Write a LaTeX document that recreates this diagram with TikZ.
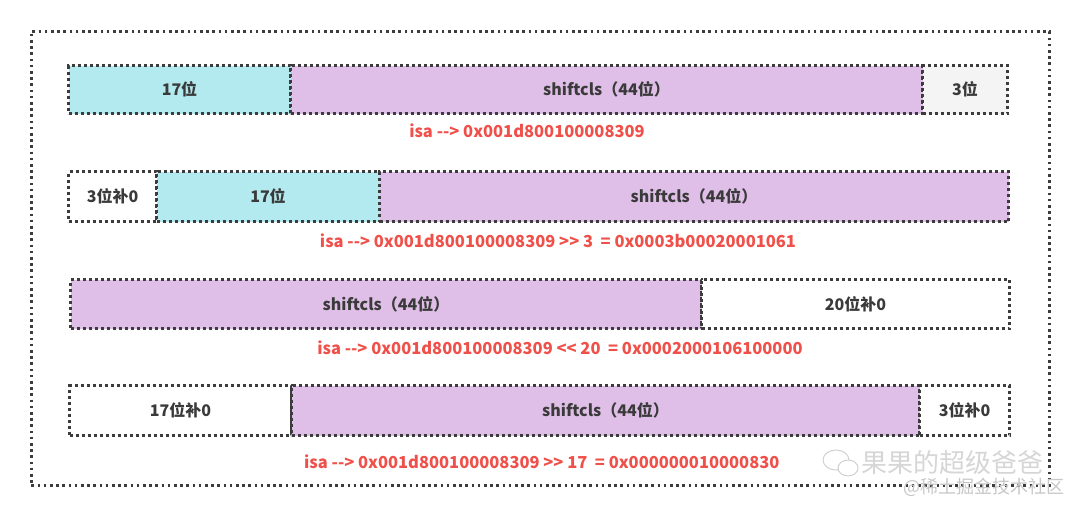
\documentclass[tikz,border=0pt]{standalone}
\usepackage{fontspec}
\setmainfont{Noto Sans CJK SC}[Ligatures=TeXOff]
\definecolor{cy}{HTML}{B2EAF0}
\definecolor{pu}{HTML}{DFBFE7}
\definecolor{gy}{HTML}{F4F4F4}
\definecolor{rd}{HTML}{F0504A}
\definecolor{tx}{HTML}{3A3A3A}
\definecolor{ln}{HTML}{3C3C3C}
\tikzset{
  cell/.style={draw=ln, line width=3pt, dash pattern=on 3pt off 3pt, inner sep=0pt, font=\bfseries\fontsize{16}{18}\selectfont, text=tx},
  lab/.style={font=\bfseries\fontsize{16.5}{18}\selectfont, text=rd, inner sep=0pt},
  wm/.style={font=\fontsize{26}{28}\selectfont, text=black!16, inner sep=0pt},
}
\begin{document}
\begin{tikzpicture}[x=1pt,y=-1pt]
\useasboundingbox (0,0) rectangle (1080,515);
\fill[white] (0,0) rectangle (1080,515);
\node[draw=ln, line width=2.6pt, dash pattern=on 2.6pt off 3.6pt, minimum width=1018pt, minimum height=454pt, anchor=north west, inner sep=0pt] (frame) at (30,30) {};
% row 1
\node[cell, fill=cy, minimum width=222pt, minimum height=48pt, anchor=north west] (r1a) at (67,64) {17位};
\node[cell, fill=pu, minimum width=632pt, minimum height=48pt, anchor=north west] (r1b) at (289,64) {shiftcls（44位）};
\node[cell, fill=gy, minimum width=85pt, minimum height=48pt, anchor=north west] (r1c) at (921,64) {3位};
\node[lab] (l1) at (527,131) {isa {-}{-}{>} 0x001d800100008309};
% row 2
\node[cell, fill=white, minimum width=88pt, minimum height=50pt, anchor=north west] (r2a) at (67,170) {3位补0};
\node[cell, fill=cy, minimum width=223pt, minimum height=50pt, anchor=north west] (r2b) at (155,170) {17位};
\node[cell, fill=pu, minimum width=629pt, minimum height=50pt, anchor=north west] (r2c) at (378,170) {shiftcls（44位）};
\node[lab] (l2) at (558,241) {isa {-}{-}{>} 0x001d800100008309 {>}{>} 3\ \ = 0x0003b00020001061};
% row 3
\node[cell, fill=pu, minimum width=631pt, minimum height=49pt, anchor=north west] (r3a) at (69,278) {shiftcls（44位）};
\node[cell, fill=white, minimum width=308pt, minimum height=49pt, anchor=north west] (r3b) at (700,278) {20位补0};
\node[lab] (l3) at (560,348) {isa {-}{-}{>} 0x001d800100008309 {<}{<} 20\ \ = 0x0002000106100000};
% row 4
\node[cell, fill=white, minimum width=222pt, minimum height=50pt, anchor=north west] (r4a) at (68,384) {17位补0};
\node[cell, fill=pu, minimum width=628pt, minimum height=50pt, anchor=north west] (r4b) at (290,384) {shiftcls（44位）};
\node[cell, fill=white, minimum width=90pt, minimum height=50pt, anchor=north west] (r4c) at (918,384) {3位补0};
\node[lab, anchor=west] (l4) at (304,462) {isa {-}{-}{>} 0x001d800100008309 {>}{>} 17\ \ = 0x000000010000830};
% watermark
\draw[black!18, line width=1pt] (836,460) ellipse [x radius=13pt, y radius=10pt];
\draw[black!18, line width=1pt, fill=white] (848,468) ellipse [x radius=10pt, y radius=8pt];
\node[wm, anchor=west] (wm1) at (861,463) {果果的超级爸爸};
\node[font=\fontsize{18}{20}\selectfont, text=black!22, inner sep=0pt, anchor=west] (wm2) at (903,487) {@稀土掘金技术社区};
\end{tikzpicture}
\end{document}
